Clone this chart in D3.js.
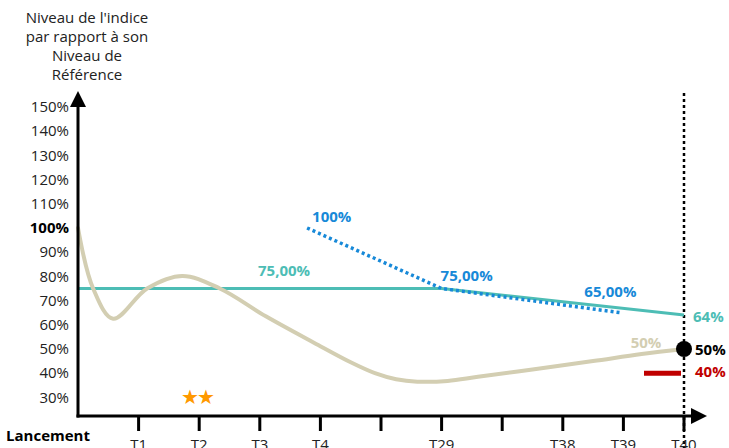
<!DOCTYPE html>
<html>
<head>
<meta charset="utf-8">
<script src="https://cdn.jsdelivr.net/npm/d3@7/dist/d3.min.js"></script>
<style>
  html, body { margin: 0; padding: 0; background: #fff; }
  svg { display: block; font-family: "Open Sans", "Noto Sans", sans-serif; }
</style>
</head>
<body>
<svg id="chart" width="729" height="448"></svg>
<script>
// Observation dates on the horizontal axis (index 0 = launch)
const xTickIndex = [1, 2, 3, 4, 5, 6, 7, 8, 9, 10];
const xTickLabels = ["T1", "T2", "T3", "T4", "", "T29", "", "T38", "T39", "T40"];

// Vertical axis graduations
const yTicks = [150, 140, 130, 120, 110, 100, 90, 80, 70, 60, 50, 40, 30];

// Index path (level relative to reference level, %)
const indexT = [0, 0.25, 0.58, 1.14, 1.72, 2.34, 3.1, 3.9, 4.5, 4.9, 5.25, 5.6, 6.1, 6.6, 7.5, 8.5, 9.3, 10];
const indexV = [100, 75, 62.5, 75, 80.2, 75, 63.5, 52.5, 44.5, 40, 37.5, 36.5, 36.8, 38.5, 41.5, 45, 47.9, 50];

// Autocall barrier (solid) and early-redemption thresholds (dotted)
const barrierT = [0, 6, 10];
const barrierV = [75, 75, 64];
const thresholdT = [3.78, 6, 8.95];
const thresholdV = [100, 75, 65];

// Final values at maturity
const finalIndex = 50;
const capitalBarrier = 40;
const starsT = 1.97;

const svg = d3.select("#chart");
const x = d3.scaleLinear().domain([0, 10]).range([78, 684]);
const y = d3.scaleLinear().domain([22.3, 150]).range([416, 107]);

const teal = "#4dbdb5", beige = "#d3ceb2", blue = "#1789d8", red = "#c00000", orange = "#ff9900";
const textColor = "#222";

// Axis title
svg.append("text")
  .attr("x", 87).attr("y", 23)
  .attr("text-anchor", "middle")
  .attr("font-size", 15).attr("fill", textColor)
  .selectAll("tspan")
  .data(["Niveau de l'indice", "par rapport à son", "Niveau de", "Référence"])
  .join("tspan")
  .attr("x", 87).attr("dy", (d, i) => i === 0 ? 0 : 19)
  .text(d => d);

// Y tick labels
svg.append("g").selectAll("text")
  .data(yTicks)
  .join("text")
  .attr("x", 69).attr("y", d => y(d))
  .attr("dy", "0.35em")
  .attr("text-anchor", "end")
  .attr("font-size", 15)
  .attr("font-weight", d => d === 100 ? "bold" : "normal")
  .attr("fill", d => d === 100 ? "#000" : textColor)
  .text(d => d + "%");

// Vertical dotted line at maturity
svg.append("line")
  .attr("x1", x(10)).attr("x2", x(10))
  .attr("y1", 93).attr("y2", 448)
  .attr("stroke", "#000").attr("stroke-width", 2.5)
  .attr("stroke-dasharray", "3,3");

// Barrier line
const line = d3.line().x(d => x(d[0])).y(d => y(d[1]));
svg.append("path")
  .datum(barrierT.map((t, i) => [t, barrierV[i]]))
  .attr("d", line)
  .attr("fill", "none").attr("stroke", teal).attr("stroke-width", 3);

// Index path
svg.append("path")
  .datum(indexT.map((t, i) => [t, indexV[i]]))
  .attr("d", d3.line().x(d => x(d[0])).y(d => y(d[1])).curve(d3.curveCatmullRom.alpha(0.5)))
  .attr("fill", "none").attr("stroke", beige).attr("stroke-width", 4)
  .attr("stroke-linecap", "round");

// Threshold dotted line
svg.append("path")
  .datum(thresholdT.map((t, i) => [t, thresholdV[i]]))
  .attr("d", line)
  .attr("fill", "none").attr("stroke", blue).attr("stroke-width", 3.5)
  .attr("stroke-dasharray", "3,3");

// Capital protection barrier marker
svg.append("line")
  .attr("x1", x(10) - 40).attr("x2", x(10) - 3)
  .attr("y1", y(capitalBarrier)).attr("y2", y(capitalBarrier))
  .attr("stroke", red).attr("stroke-width", 5);

// Final index level
svg.append("circle")
  .attr("cx", x(10)).attr("cy", y(finalIndex)).attr("r", 8)
  .attr("fill", "#000");

// Axes
const axisG = svg.append("g");
axisG.append("line")
  .attr("x1", x(0)).attr("x2", x(0))
  .attr("y1", y.range()[0] + 1.5).attr("y2", 100)
  .attr("stroke", "#000").attr("stroke-width", 3);
axisG.append("path")
  .attr("d", `M${x(0)},91 L${x(0) - 8},107 L${x(0) + 8},107 Z`)
  .attr("fill", "#000");
axisG.append("line")
  .attr("x1", x(0) - 1.5).attr("x2", 698)
  .attr("y1", y.range()[0]).attr("y2", y.range()[0])
  .attr("stroke", "#000").attr("stroke-width", 3);
axisG.append("path")
  .attr("d", `M707,${y.range()[0]} L691,${y.range()[0] - 8} L691,${y.range()[0] + 8} Z`)
  .attr("fill", "#000");

// X ticks and labels
axisG.selectAll(".tick")
  .data(xTickIndex)
  .join("line")
  .attr("x1", d => x(d)).attr("x2", d => x(d))
  .attr("y1", 416).attr("y2", 431)
  .attr("stroke", "#000").attr("stroke-width", 3);
axisG.selectAll(".tlabel")
  .data(xTickIndex)
  .join("text")
  .attr("x", d => x(d)).attr("y", 450)
  .attr("text-anchor", "middle")
  .attr("font-size", 15).attr("fill", textColor)
  .text((d, i) => xTickLabels[i]);

svg.append("text")
  .attr("x", 48).attr("y", 441)
  .attr("text-anchor", "middle")
  .attr("font-size", 15).attr("font-weight", "bold").attr("fill", "#000")
  .text("Lancement");

// Stars
svg.append("text")
  .attr("x", x(starsT)).attr("y", y(30))
  .attr("dy", "0.35em")
  .attr("text-anchor", "middle")
  .attr("font-size", 20).attr("fill", orange)
  .attr("letter-spacing", -2)
  .text("★★");

// Value labels
const labels = [
  { t: thresholdT[0], v: thresholdV[0], dx: 5, dy: -11, text: "100%", color: blue, anchor: "start" },
  { t: thresholdT[1], v: thresholdV[1], dx: -1, dy: -13, text: "75,00%", color: blue, anchor: "start" },
  { t: thresholdT[2], v: thresholdV[2], dx: -36, dy: -21, text: "65,00%", color: blue, anchor: "start" },
  { t: 3.4, v: barrierV[0], dx: 0, dy: -18, text: "75,00%", color: teal, anchor: "middle" },
  { t: 10, v: barrierV[2], dx: 9, dy: 2, text: "64%", color: teal, anchor: "start" },
  { t: 10, v: finalIndex, dx: -38, dy: -6, text: "50%", color: beige, anchor: "middle" },
  { t: 10, v: finalIndex, dx: 11, dy: 1, text: "50%", color: "#000", anchor: "start" },
  { t: 10, v: capitalBarrier, dx: 11, dy: -1, text: "40%", color: red, anchor: "start" }
];
svg.append("g").selectAll("text")
  .data(labels)
  .join("text")
  .attr("x", d => x(d.t) + d.dx)
  .attr("y", d => y(d.v) + d.dy)
  .attr("dy", "0.35em")
  .attr("text-anchor", d => d.anchor)
  .attr("font-size", 15).attr("font-weight", "bold")
  .attr("fill", d => d.color)
  .text(d => d.text);
</script>
</body>
</html>
